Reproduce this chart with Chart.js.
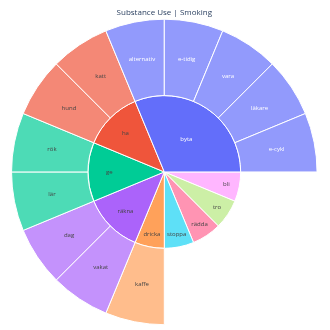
<!DOCTYPE html>
<html>
<head>
<meta charset="utf-8">
<script src="https://cdn.jsdelivr.net/npm/chart.js@4.4.1/dist/chart.umd.min.js"></script>
<style>
  html, body { margin: 0; padding: 0; background: #fff; }
</style>
</head>
<body>
<canvas id="chart" width="330" height="330"></canvas>
<script>
// Inner ring (parents), in plotly order (counterclockwise from east)
const innerLabels = ['byta', 'ha', 'ge', 'räkna', 'dricka', 'stoppa', 'rädda', 'tro', 'bli'];
const innerValues = [5, 2, 2, 2, 1, 1, 1, 1, 1];
const innerColors = ['#636efa', '#EF553B', '#00cc96', '#ab63fa', '#FFA15A', '#19d3f3', '#FF6692', '#B6E880', '#FF97FF'];

// Outer ring (leaves)
const outerLabels = ['e-cykl', 'läkare', 'vara', 'e-tidig', 'alternativ', 'katt', 'hund', 'rök', 'lär', 'dag', 'vakat', 'kaffe'];
const outerParents = ['byta', 'byta', 'byta', 'byta', 'byta', 'ha', 'ha', 'ge', 'ge', 'räkna', 'räkna', 'dricka'];
const outerValues = [1, 1, 1, 1, 1, 1, 1, 1, 1, 1, 1, 1];

// leaves are drawn at 0.7 opacity on white
function leafColor(hex) {
    const n = parseInt(hex.slice(1), 16);
    const c = [(n >> 16) & 255, (n >> 8) & 255, n & 255].map(v => Math.round(v * 0.7 + 255 * 0.3));
    return 'rgb(' + c.join(',') + ')';
}

function textColor(parent) {
    return parent === 'byta' ? '#ffffff' : '#444444';
}

// Build both rings
const inner = { labels: [], data: [], colors: [], text: [], textColors: [], borders: [] };
const outer = { labels: [], data: [], colors: [], text: [], textColors: [], borders: [] };

innerLabels.forEach((name, i) => {
    const kids = outerLabels.map((l, k) => k).filter(k => outerParents[k] === name);
    inner.labels.push(name);
    inner.data.push(innerValues[i]);
    inner.colors.push(kids.length ? innerColors[i] : leafColor(innerColors[i]));
    inner.text.push(name);
    inner.textColors.push(textColor(name));
    inner.borders.push(1);
    if (kids.length) {
        kids.forEach(k => {
            outer.labels.push(outerLabels[k]);
            outer.data.push(outerValues[k]);
            outer.colors.push(leafColor(innerColors[i]));
            outer.text.push(outerLabels[k]);
            outer.textColors.push(textColor(name));
            outer.borders.push(1);
        });
    } else {
        // empty space above a leaf parent
        outer.labels.push('');
        outer.data.push(innerValues[i]);
        outer.colors.push('rgba(0,0,0,0)');
        outer.text.push('');
        outer.textColors.push('#444444');
        outer.borders.push(0);
    }
});

// Chart.js draws clockwise, so reverse everything
Object.keys(inner).forEach(k => inner[k].reverse());
Object.keys(outer).forEach(k => outer[k].reverse());

const sliceLabels = {
    id: 'sliceLabels',
    afterDatasetsDraw(chart) {
        const ctx = chart.ctx;
        ctx.save();
        ctx.font = '6px "Open Sans", sans-serif';
        ctx.textAlign = 'center';
        ctx.textBaseline = 'middle';
        chart.data.datasets.forEach((ds, i) => {
            const meta = chart.getDatasetMeta(i);
            meta.data.forEach((arc, j) => {
                const text = ds.sliceText[j];
                if (!text) return;
                const p = arc.getProps(['x', 'y', 'startAngle', 'endAngle', 'innerRadius', 'outerRadius'], true);
                const mid = (p.startAngle + p.endAngle) / 2;
                const span = p.endAngle - p.startAngle;
                let r;
                if (p.innerRadius > 1) {
                    r = (p.innerRadius + p.outerRadius) / 2;
                } else {
                    r = p.outerRadius * (span > 1.5 ? 0.52 : span > 0.6 ? 0.72 : 0.83);
                }
                ctx.fillStyle = ds.textColors[j];
                ctx.fillText(text, p.x + r * Math.cos(mid), p.y + r * Math.sin(mid));
            });
        });
        ctx.restore();
    }
};

const ctx = document.getElementById('chart').getContext('2d');
const chart = new Chart(ctx, {
    type: 'pie',
    data: {
        labels: outer.labels,
        datasets: [
            {
                data: outer.data,
                backgroundColor: outer.colors,
                borderColor: '#ffffff',
                borderWidth: outer.borders,
                sliceText: outer.text,
                textColors: outer.textColors
            },
            {
                data: inner.data,
                backgroundColor: inner.colors,
                borderColor: '#ffffff',
                borderWidth: inner.borders,
                sliceText: inner.text,
                textColors: inner.textColors
            }
        ]
    },
    options: {
        responsive: false,
        animation: false,
        rotation: 90,
        hoverOffset: 0,
        layout: {
            padding: { left: 10.8, right: 12.2, top: 0, bottom: 4.8 }
        },
        plugins: {
            legend: { display: false },
            tooltip: { enabled: false },
            title: {
                display: true,
                text: 'Substance Use | Smoking',
                color: '#2a3f5f',
                font: { family: '"Open Sans", sans-serif', size: 8, weight: 'normal' },
                padding: { top: 7.5, bottom: 1.6 }
            }
        }
    },
    plugins: [sliceLabels]
});
</script>
</body>
</html>
